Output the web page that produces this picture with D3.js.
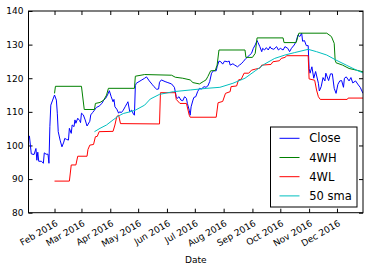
<!DOCTYPE html>
<html>
<head>
<meta charset="utf-8">
<script src="https://cdn.jsdelivr.net/npm/d3@7"></script>
<style>
  body { margin: 0; background: #fff; }
  svg { display: block; font-family: "DejaVu Sans", sans-serif; }
</style>
</head>
<body>
<div id="chart"></div>
<script>
// Series: [date, value]
const closeData = [
  ["2016-01-04",103.0],["2016-01-05",102.8],["2016-01-07",97.5],["2016-01-10",97.3],
  ["2016-01-12",99.1],["2016-01-13",95.6],["2016-01-14",98.0],["2016-01-15",95.3],
  ["2016-01-18",95.3],["2016-01-20",94.7],["2016-01-21",97.8],["2016-01-23",97.4],
  ["2016-01-25",97.4],["2016-01-26",94.7],["2016-01-27",105.6],["2016-01-28",112.0],
  ["2016-01-30",113.5],["2016-02-01",115.0],["2016-02-03",113.5],["2016-02-04",109.6],
  ["2016-02-05",104.1],["2016-02-07",101.6],["2016-02-09",99.6],["2016-02-11",101.0],
  ["2016-02-12",102.1],["2016-02-14",101.8],["2016-02-16",101.6],["2016-02-17",105.1],
  ["2016-02-19",103.6],["2016-02-20",106.1],["2016-02-22",105.6],["2016-02-23",107.6],
  ["2016-02-24",106.6],["2016-02-26",108.1],["2016-02-28",107.4],["2016-02-29",106.8],
  ["2016-03-01",109.6],["2016-03-03",109.1],["2016-03-05",107.6],["2016-03-07",105.8],
  ["2016-03-10",107.2],["2016-03-11",109.1],["2016-03-13",109.8],["2016-03-15",110.5],
  ["2016-03-17",111.3],["2016-03-20",111.7],["2016-03-23",112.5],["2016-03-25",113.5],
  ["2016-03-27",114.0],["2016-03-29",115.0],["2016-03-31",116.3],["2016-04-02",114.5],
  ["2016-04-04",113.0],["2016-04-05",113.7],["2016-04-06",111.5],["2016-04-08",110.8],
  ["2016-04-10",109.6],["2016-04-11",110.0],["2016-04-13",109.8],["2016-04-15",110.5],
  ["2016-04-17",111.5],["2016-04-19",112.5],["2016-04-20",113.0],["2016-04-22",110.0],
  ["2016-04-24",110.5],["2016-04-26",109.3],["2016-04-27",109.0],["2016-04-28",117.8],
  ["2016-04-29",118.5],["2016-05-02",119.0],["2016-05-05",119.5],["2016-05-08",120.0],
  ["2016-05-10",120.4],["2016-05-13",119.2],["2016-05-16",118.2],["2016-05-18",117.5],
  ["2016-05-21",116.7],["2016-05-23",116.8],["2016-05-24",118.8],["2016-05-26",119.5],
  ["2016-05-30",119.0],["2016-06-02",118.7],["2016-06-06",118.3],["2016-06-09",117.3],
  ["2016-06-10",116.0],["2016-06-11",114.5],["2016-06-12",114.0],["2016-06-14",114.5],
  ["2016-06-16",113.5],["2016-06-18",113.3],["2016-06-20",114.5],["2016-06-22",114.0],
  ["2016-06-23",112.5],["2016-06-25",110.5],["2016-06-26",109.0],["2016-06-27",111.5],
  ["2016-06-29",113.5],["2016-06-30",114.3],["2016-07-02",114.5],["2016-07-04",116.0],
  ["2016-07-06",117.0],["2016-07-08",116.8],["2016-07-11",117.5],["2016-07-13",117.3],
  ["2016-07-15",117.7],["2016-07-17",119.0],["2016-07-19",121.5],["2016-07-21",122.2],
  ["2016-07-24",122.2],["2016-07-25",123.4],["2016-07-27",125.1],["2016-07-29",124.9],
  ["2016-07-31",124.2],["2016-08-02",125.1],["2016-08-05",124.9],["2016-08-07",125.1],
  ["2016-08-08",123.9],["2016-08-11",124.3],["2016-08-13",123.9],["2016-08-16",123.4],
  ["2016-08-18",123.9],["2016-08-20",124.3],["2016-08-22",124.9],["2016-08-25",125.9],
  ["2016-08-27",126.4],["2016-08-29",126.9],["2016-08-31",127.4],["2016-09-02",128.9],
  ["2016-09-04",129.9],["2016-09-06",131.2],["2016-09-07",130.6],["2016-09-09",129.4],
  ["2016-09-11",127.9],["2016-09-12",128.9],["2016-09-14",128.4],["2016-09-16",129.1],
  ["2016-09-18",128.4],["2016-09-20",129.4],["2016-09-21",128.9],["2016-09-24",128.6],
  ["2016-09-27",129.4],["2016-09-29",128.4],["2016-10-01",128.9],["2016-10-04",128.4],
  ["2016-10-06",129.4],["2016-10-09",128.9],["2016-10-11",127.9],["2016-10-13",128.9],
  ["2016-10-16",129.9],["2016-10-18",130.9],["2016-10-20",132.9],["2016-10-22",132.4],
  ["2016-10-24",133.4],["2016-10-25",131.0],["2016-10-27",131.2],["2016-10-29",129.7],
  ["2016-10-31",129.7],["2016-11-01",122.9],["2016-11-02",121.5],["2016-11-04",123.4],
  ["2016-11-06",120.0],["2016-11-08",122.0],["2016-11-11",118.5],["2016-11-12",116.2],
  ["2016-11-14",117.5],["2016-11-16",120.2],["2016-11-18",119.2],["2016-11-19",121.5],
  ["2016-11-22",119.3],["2016-11-24",121.3],["2016-11-26",121.3],["2016-11-28",117.0],
  ["2016-11-30",115.5],["2016-12-02",118.2],["2016-12-04",119.2],["2016-12-06",119.3],
  ["2016-12-08",117.3],["2016-12-09",120.0],["2016-12-11",120.4],["2016-12-14",119.2],
  ["2016-12-16",120.2],["2016-12-18",118.6],["2016-12-21",119.2],["2016-12-24",118.0],
  ["2016-12-26",117.3],["2016-12-29",115.5]
];

const highData = [
  ["2016-02-01",115.5],["2016-02-02",117.6],["2016-03-01",117.6],["2016-03-04",110.7],
  ["2016-03-15",110.7],["2016-03-16",112.5],["2016-03-21",112.8],["2016-03-25",113.5],
  ["2016-03-28",115.0],["2016-03-30",117.0],["2016-04-27",117.0],["2016-04-28",120.6],
  ["2016-05-08",121.1],["2016-06-06",120.9],["2016-06-10",120.3],["2016-06-18",120.0],
  ["2016-06-26",119.5],["2016-06-29",118.7],["2016-07-06",118.3],["2016-07-10",119.0],
  ["2016-07-13",119.5],["2016-07-15",120.5],["2016-07-18",122.2],["2016-07-23",122.3],
  ["2016-07-25",123.9],["2016-07-27",128.4],["2016-08-24",128.4],["2016-08-25",126.2],
  ["2016-09-01",126.2],["2016-09-04",127.4],["2016-09-06",132.0],["2016-10-04",132.0],
  ["2016-10-05",130.6],["2016-10-18",130.6],["2016-10-21",133.4],["2016-11-20",133.4],
  ["2016-11-25",132.4],["2016-11-28",130.4],["2016-11-29",125.4],["2016-11-30",124.6],
  ["2016-12-07",123.9],["2016-12-14",122.9],["2016-12-22",122.4],["2016-12-29",121.9]
];

const lowData = [
  ["2016-02-01",89.4],["2016-02-17",89.4],["2016-02-19",94.2],["2016-02-24",94.2],
  ["2016-02-26",96.8],["2016-03-07",96.8],["2016-03-08",98.8],["2016-03-10",100.1],
  ["2016-03-14",100.3],["2016-03-16",102.6],["2016-03-18",102.7],["2016-03-20",104.1],
  ["2016-04-04",104.2],["2016-04-06",106.1],["2016-04-08",108.6],["2016-04-10",109.0],
  ["2016-04-12",106.5],["2016-05-24",106.4],["2016-05-25",115.7],["2016-06-10",115.7],
  ["2016-06-11",113.7],["2016-06-15",112.5],["2016-06-22",112.5],["2016-06-25",109.0],
  ["2016-06-26",108.4],["2016-07-24",108.4],["2016-07-26",112.7],["2016-07-31",113.1],
  ["2016-08-03",115.5],["2016-08-08",116.0],["2016-08-09",117.5],["2016-08-15",117.7],
  ["2016-08-17",119.5],["2016-08-20",119.7],["2016-08-23",121.5],["2016-08-28",121.5],
  ["2016-08-31",122.4],["2016-09-04",122.7],["2016-09-09",123.0],["2016-09-11",123.9],
  ["2016-09-21",124.1],["2016-09-23",124.9],["2016-09-30",125.2],["2016-10-02",125.9],
  ["2016-10-06",126.2],["2016-10-08",126.7],["2016-10-31",126.7],["2016-11-01",119.8],
  ["2016-11-07",119.4],["2016-11-09",116.5],["2016-11-11",114.5],["2016-11-13",113.7],
  ["2016-12-12",113.7],["2016-12-13",114.1],["2016-12-29",114.1]
];

const smaData = [
  ["2016-03-15",104.1],["2016-03-21",105.1],["2016-03-28",106.1],["2016-04-04",107.6],
  ["2016-04-10",108.8],["2016-04-15",109.5],["2016-04-22",110.0],["2016-04-28",110.5],
  ["2016-05-08",112.0],["2016-05-14",113.8],["2016-05-24",115.2],["2016-06-08",116.0],
  ["2016-06-26",116.5],["2016-07-14",117.0],["2016-07-28",117.3],["2016-08-11",118.5],
  ["2016-08-24",120.0],["2016-09-04",122.2],["2016-09-14",124.2],["2016-09-25",125.9],
  ["2016-10-06",126.9],["2016-10-16",127.6],["2016-10-31",128.6],["2016-11-09",127.9],
  ["2016-11-20",126.9],["2016-11-30",125.4],["2016-12-11",123.9],["2016-12-22",122.4],
  ["2016-12-29",121.6]
];

const seriesNames = ["Close", "4WH", "4WL", "50 sma"];
const seriesColors = ["#0000ff", "#008000", "#ff0000", "#00bfbf"];
const yTicks = [80, 90, 100, 110, 120, 130, 140];
const dateRange = ["2016-01-04", "2016-12-29"];

const parseDate = d3.timeParse("%Y-%m-%d");
const W = 370, H = 272;
const plot = { left: 28.5, right: 363, top: 11, bottom: 212.7 };

const svg = d3.select("#chart").append("svg")
  .attr("width", W)
  .attr("height", H);

const x = d3.scaleTime()
  .domain(dateRange.map(parseDate))
  .range([plot.left, plot.right]);

const y = d3.scaleLinear()
  .domain([80, 140])
  .range([plot.bottom, plot.top]);

const months = d3.timeMonth.range(parseDate("2016-02-01"), parseDate("2016-12-02"));

// inward ticks on all four sides
const xBottom = svg.append("g")
  .attr("transform", `translate(0,${plot.bottom})`)
  .call(d3.axisBottom(x).tickValues(months).tickSize(-4).tickFormat(d3.timeFormat("%b %Y")));
const xTop = svg.append("g")
  .attr("transform", `translate(0,${plot.top})`)
  .call(d3.axisTop(x).tickValues(months).tickSize(-4).tickFormat(""));
const yLeft = svg.append("g")
  .attr("transform", `translate(${plot.left},0)`)
  .call(d3.axisLeft(y).tickValues(yTicks).tickSize(-4).tickPadding(5));
const yRight = svg.append("g")
  .attr("transform", `translate(${plot.right},0)`)
  .call(d3.axisRight(y).tickValues(yTicks).tickSize(-4).tickFormat(""));

[xBottom, xTop, yLeft, yRight].forEach(g => {
  g.select(".domain").remove();
  g.selectAll(".tick line").attr("stroke", "#000").attr("stroke-width", 1);
  g.selectAll("text").attr("font-family", "DejaVu Sans").attr("font-size", "9px").attr("fill", "#000");
});

xBottom.selectAll(".tick text")
  .attr("text-anchor", "end")
  .attr("x", 0)
  .attr("y", 0)
  .attr("dy", "0.76em")
  .attr("transform", "translate(0,6.5) rotate(-30)");

// lines
const line = d3.line()
  .x(d => x(parseDate(d[0])))
  .y(d => y(d[1]));

const clip = svg.append("clipPath").attr("id", "plotclip")
  .append("rect")
  .attr("x", plot.left).attr("y", plot.top)
  .attr("width", plot.right - plot.left).attr("height", plot.bottom - plot.top);

const lineGroup = svg.append("g").attr("clip-path", "url(#plotclip)");
[closeData, highData, lowData, smaData].forEach((data, i) => {
  lineGroup.append("path")
    .datum(data)
    .attr("fill", "none")
    .attr("stroke", seriesColors[i])
    .attr("stroke-width", 1)
    .attr("stroke-linejoin", "round")
    .attr("d", line);
});

// frame
svg.append("rect")
  .attr("x", plot.left).attr("y", plot.top)
  .attr("width", plot.right - plot.left).attr("height", plot.bottom - plot.top)
  .attr("fill", "none")
  .attr("stroke", "#000")
  .attr("stroke-width", 1);

// x label
svg.append("text")
  .attr("x", (plot.left + plot.right) / 2)
  .attr("y", 263)
  .attr("text-anchor", "middle")
  .attr("font-size", "9px")
  .attr("fill", "#000")
  .text("Date");

// legend
const legend = svg.append("g");
legend.append("rect")
  .attr("x", 270.5).attr("y", 127)
  .attr("width", 86.5).attr("height", 80)
  .attr("fill", "#fff")
  .attr("stroke", "#000")
  .attr("stroke-width", 1);

seriesNames.forEach((name, i) => {
  const ly = 138.3 + i * 19.2;
  legend.append("line")
    .attr("x1", 279.5).attr("x2", 299.5)
    .attr("y1", ly).attr("y2", ly)
    .attr("stroke", seriesColors[i])
    .attr("stroke-width", 1);
  legend.append("text")
    .attr("x", 309.3)
    .attr("y", ly)
    .attr("dy", "0.36em")
    .attr("font-size", "11.5px")
    .attr("fill", "#000")
    .text(name);
});
</script>
</body>
</html>
